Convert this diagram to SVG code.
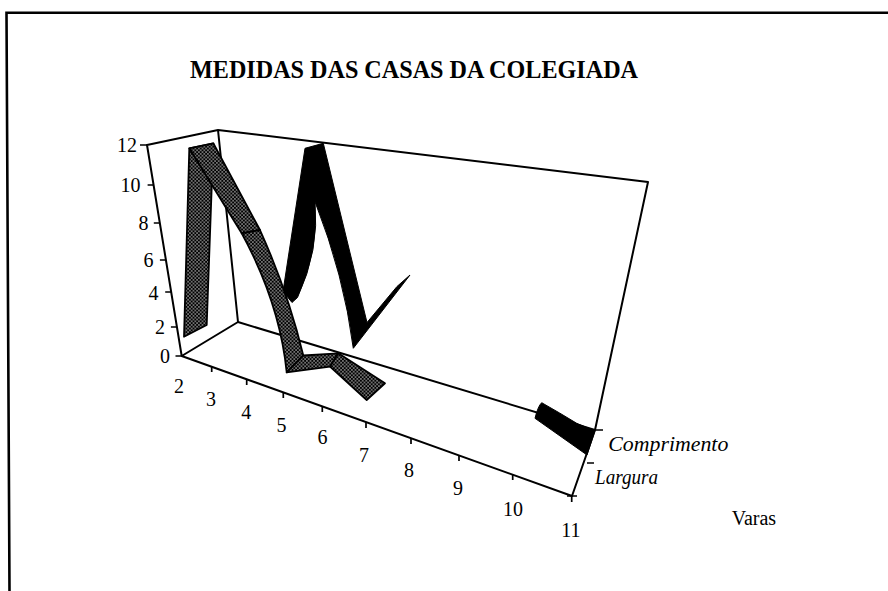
<svg xmlns="http://www.w3.org/2000/svg" width="888" height="591" viewBox="0 0 888 591">
<defs>
<pattern id="hatch" width="3.6" height="3.6" patternUnits="userSpaceOnUse">
<rect width="3.6" height="3.6" fill="#000"/>
<circle cx="0.9" cy="0.9" r="0.72" fill="#fff"/>
<circle cx="2.7" cy="2.7" r="0.72" fill="#fff"/>
</pattern>
<style>
.ax{fill:none;stroke:#000;stroke-width:2;stroke-linejoin:round}
.tk{fill:none;stroke:#000;stroke-width:1.7}
.lab{font-family:"Liberation Serif","Times New Roman",serif;font-size:20px;fill:#000}
.ser{font-family:"Liberation Serif","Times New Roman",serif;font-size:20px;font-style:italic;fill:#000}
.rib{fill:url(#hatch);stroke:#000;stroke-width:1.8;stroke-linejoin:round}
.blk{fill:#000;stroke:#000;stroke-width:1;stroke-linejoin:round}
</style>
</defs>
<rect width="888" height="591" fill="#fff"/>
<g id="frame">
<path d="M888 12.8 L6.5 12.8 L9.5 591" fill="none" stroke="#000" stroke-width="2.6"/>
</g>
<g id="title">
<text x="414" y="78.3" text-anchor="middle" font-family="'Liberation Serif','Times New Roman',serif" font-weight="bold" font-size="25" textLength="448" lengthAdjust="spacingAndGlyphs">MEDIDAS DAS CASAS DA COLEGIADA</text>
</g>
<g id="axes">
<path class="ax" d="M181.7 356 L147 145 L218 130 L648 182 L595 430 L572 496 L181.7 356 L238 322 L218 130"/>
<path class="ax" d="M238 322 L595 430"/>
</g>
<g id="value-ticks">
<path class="tk" d="M140 145 H147 M147.6 185 H153.6 M153.8 223 H159.8 M159.9 260 H165.9 M165.2 292 H171.2 M170.9 327 H176.9 M175.5 356 H184"/>
</g>
<g id="category-ticks">
<path class="tk" d="M211.7 366.8 V372 M246.7 379.4 V385 M283.3 392.5 V398 M322.3 406.5 V412 M366 422.2 V428 M411 438.3 V444 M459 455.5 V461 M512.7 474.8 V480 M571.7 496 V502 M567 496 H577"/>
</g>
<g id="depth-ticks">
<path class="tk" d="M595 430 H603 M587 463 H594"/>
</g>
<g id="value-labels" class="lab" text-anchor="end">
<text x="137" y="151.5">12</text>
<text x="140.5" y="191.5">10</text>
<text x="148.5" y="230">8</text>
<text x="153.5" y="266.5">6</text>
<text x="158.5" y="300">4</text>
<text x="165" y="333.5">2</text>
<text x="170" y="363">0</text>
</g>
<g id="category-labels" class="lab" text-anchor="middle">
<text x="179" y="393">2</text>
<text x="211" y="406">3</text>
<text x="246.2" y="419">4</text>
<text x="281.4" y="432">5</text>
<text x="322.5" y="444">6</text>
<text x="364" y="461.7">7</text>
<text x="409" y="476.7">8</text>
<text x="458" y="495">9</text>
<text x="513" y="516">10</text>
<text x="571" y="536.7">11</text>
</g>
<g id="series-comprimento">
<path class="blk" d="M305 148.3 L323.3 143.3 L367 322.5 L397 286.5 L410 275 L353.3 348.3 Q343.9 275 315 201.7 Q319.6 250 297.5 297.5 L292 302.5 L283 291.5 Z"/>
<path class="blk" d="M541.7 402.7 Q538 406 535 418.3 L587 455 L595 430.5 Q585 427 576.7 423.3 Q560 413 541.7 402.7 Z"/>
</g>
<g id="series-largura">
<path class="rib" d="M184 336.7 L189.3 148.3 L213.3 143.3 L206.7 325 Z"/>
<path class="rib" d="M189.3 148.3 L241.7 233.3 L260 230 L213.3 143.3 Z"/>
<path class="rib" d="M241.7 233.3 Q279.8 303.2 286.7 372.3 L303.3 355.5 Q288.4 293.3 260 230 Z"/>
<path class="rib" d="M286.7 372.3 L330 366.7 L338.3 353.3 L303.3 355.5 Z"/>
<path class="rib" d="M330 366.7 L366.7 400 L385 383.3 L338.3 353.3 Z"/>
</g>
<g id="series-labels" class="ser">
<text x="608.3" y="450.7" textLength="120" lengthAdjust="spacingAndGlyphs">Comprimento</text>
<text x="595" y="484" textLength="63" lengthAdjust="spacingAndGlyphs">Largura</text>
</g>
<g id="axis-title">
<text class="lab" x="731.7" y="525">Varas</text>
</g>
</svg>
